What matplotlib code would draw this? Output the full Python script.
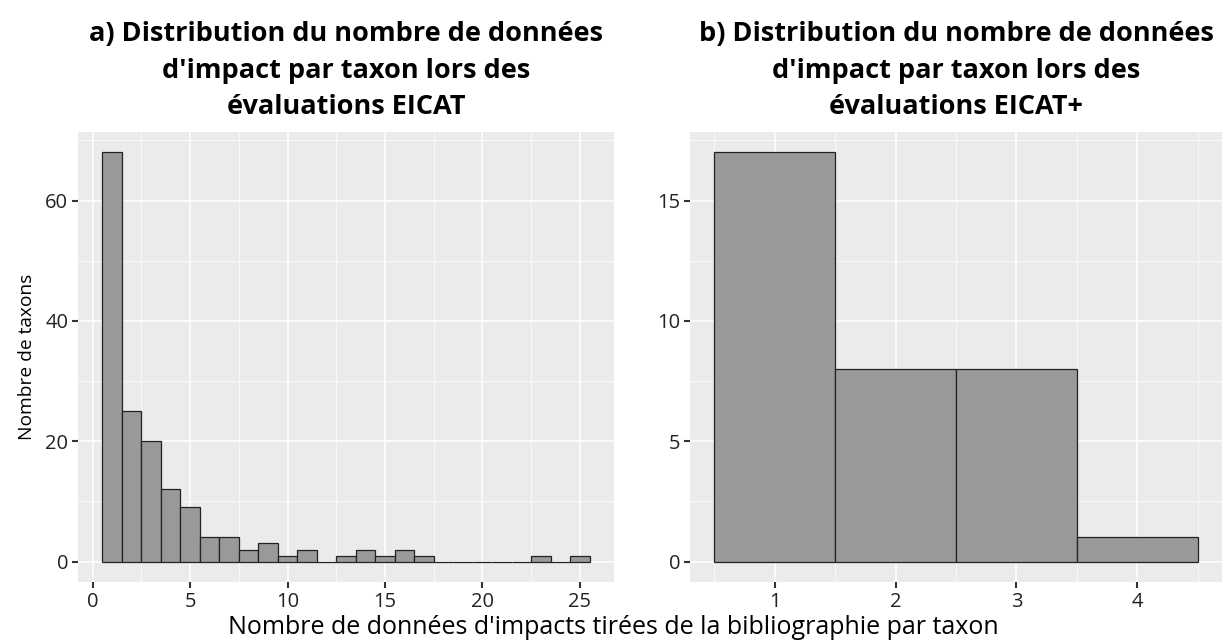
import numpy as np
import matplotlib
matplotlib.use("Agg")
import matplotlib.pyplot as plt
from matplotlib.ticker import MultipleLocator

# counts per number of impact records (bins of width 1 centred on integers)
eicat_n = list(range(1, 26))
eicat_counts = [68, 25, 20, 12, 9, 4, 4, 2, 3, 1, 2, 0, 1, 2, 1, 2, 1, 0, 0, 0, 0, 0, 1, 0, 1]

eicatplus_n = [1, 2, 3, 4]
eicatplus_counts = [17, 8, 8, 1]

title_a = "a) Distribution du nombre de données\nd'impact par taxon lors des\névaluations EICAT"
title_b = "b) Distribution du nombre de données\nd'impact par taxon lors des\névaluations EICAT+"
xlabel = "Nombre de données d'impacts tirées de la bibliographie par taxon"
ylabel = "Nombre de taxons"

plt.rcParams['font.family'] = ['Open Sans', 'DejaVu Sans']

W, H = 1227, 644
fig = plt.figure(figsize=(W / 100, H / 100), dpi=100)

ax1 = fig.add_axes([78 / W, 1 - 582 / H, 536 / W, 450 / H])
ax2 = fig.add_axes([690 / W, 1 - 582 / H, 532 / W, 450 / H])


def style(ax, xmaj, xmin, ymaj, ymin):
    ax.set_facecolor('#EBEBEB')
    for s in ax.spines.values():
        s.set_visible(False)
    ax.xaxis.set_major_locator(MultipleLocator(xmaj))
    ax.xaxis.set_minor_locator(MultipleLocator(xmin))
    ax.yaxis.set_major_locator(MultipleLocator(ymaj))
    ax.yaxis.set_minor_locator(MultipleLocator(ymin))
    ax.grid(which='major', color='white', linewidth=1.1)
    ax.grid(which='minor', color='white', linewidth=0.5)
    ax.set_axisbelow(True)
    ax.tick_params(which='major', length=4, width=1.5, color='#333333',
                   labelsize=14.5, labelcolor='#222222', pad=3)
    ax.tick_params(which='minor', length=0)


ax1.bar(eicat_n, eicat_counts, width=1, color='#999999', edgecolor='#222222', linewidth=0.9)
ax1.set_xlim(0.5 - 1.25, 25.5 + 1.25)
ax1.set_ylim(-68 * 0.05, 68 * 1.05)
style(ax1, 5, 2.5, 20, 10)
ax1.set_title(title_a, fontsize=19.5, fontweight='bold', pad=13, linespacing=1.52)
ax1.set_ylabel(ylabel, fontsize=13.8, labelpad=7)

ax2.bar(eicatplus_n, eicatplus_counts, width=1, color='#999999', edgecolor='#222222', linewidth=0.9)
ax2.set_xlim(0.5 - 0.2, 4.5 + 0.2)
ax2.set_ylim(-17 * 0.05, 17 * 1.05)
style(ax2, 1, 0.5, 5, 2.5)
ax2.set_title(title_b, fontsize=19.5, fontweight='bold', pad=13, linespacing=1.52)

fig.text(0.5, 1 - 628 / H, xlabel, ha='center', va='center', fontsize=18)

fig.savefig('out.png', dpi=100)
